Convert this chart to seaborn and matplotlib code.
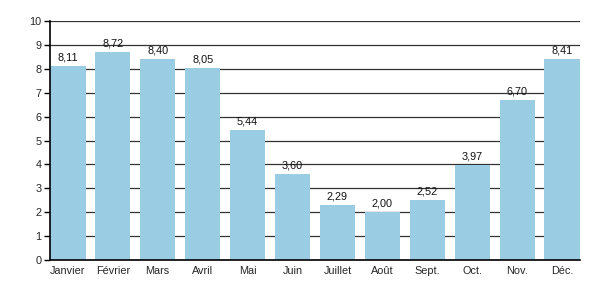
import matplotlib
matplotlib.use("Agg")
import matplotlib.pyplot as plt
import seaborn as sns
import pandas as pd

months = ["Janvier", "Février", "Mars", "Avril", "Mai", "Juin", "Juillet", "Août", "Sept.", "Oct.", "Nov.", "Déc."]
values = [8.11, 8.72, 8.40, 8.05, 5.44, 3.60, 2.29, 2.00, 2.52, 3.97, 6.70, 8.41]
labels = ["8,11", "8,72", "8,40", "8,05", "5,44", "3,60", "2,29", "2,00", "2,52", "3,97", "6,70", "8,41"]

sns.set_style("white")
plt.rcParams['font.family'] = ['Liberation Sans', 'DejaVu Sans']

df = pd.DataFrame({"mois": months, "val": values})
fig = plt.figure(figsize=(6, 3), dpi=100)
ax = fig.add_axes([0.083, 0.133, 0.884, 0.797])
sns.barplot(data=df, x="mois", y="val", color="#9acce4", saturation=1, width=0.79,
            edgecolor="none", linewidth=0, ax=ax, zorder=2)
ax.set_ylim(0, 10)
ax.set_xlim(-0.4, 11.4)
ax.set_yticks(range(0, 11))
ax.yaxis.grid(True, color="#333333", linewidth=0.9, zorder=0)
ax.set_axisbelow(True)
for s in ["top", "right"]:
    ax.spines[s].set_visible(False)
ax.spines["left"].set_color("black")
ax.spines["bottom"].set_color("black")
ax.spines["left"].set_linewidth(1.2)
ax.spines["bottom"].set_linewidth(1.2)
ax.tick_params(axis="y", length=4, width=1, color="black", labelsize=7.8, pad=2, left=True)
ax.tick_params(axis="x", length=0, labelsize=7.8, pad=4)
ax.set_xlabel("")
ax.set_ylabel("")
for i, (v, l) in enumerate(zip(values, labels)):
    ax.text(i, v + 0.15, l, ha="center", va="bottom", fontsize=7.8, color="#111111")
fig.savefig("out.png", dpi=100)
